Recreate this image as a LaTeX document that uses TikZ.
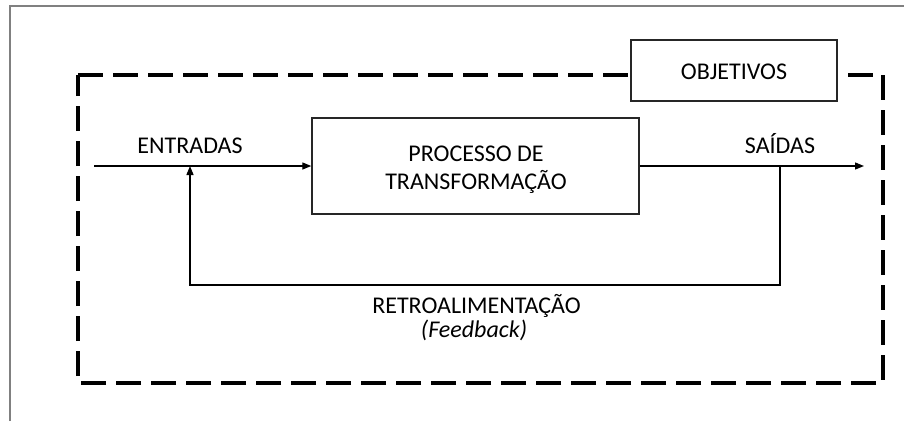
\documentclass[tikz,border=0pt]{standalone}
\usepackage{fontspec}
\setmainfont{Carlito}
\usetikzlibrary{arrows.meta}
\begin{document}
\begin{tikzpicture}[x=1pt,y=-1pt,
  every node/.style={font=\fontsize{24}{29}\selectfont, inner sep=0pt},
  txt/.style={anchor=base},
  box/.style={draw=black!85, line width=1.4pt, fill=white},
  flow/.style={draw=black, line width=1.3pt},
  arr/.style={flow, -{Triangle[length=9pt,width=7pt]}},
  sysline/.style={draw=black, line width=3.3pt, dash pattern=on 25pt off 10pt},
  frame/.style={draw=black!50, line width=1.5pt}]
  % page area
  \fill[white] (0,0) rectangle (904,421);
  \useasboundingbox (0,0) rectangle (904,421);
  % page frame
  \draw[frame] (10,421) -- (10,6) -- (904,6);
  % system boundary
  \draw[sysline] (78,75) -- (883,75) -- (883,383) -- (78,383) -- cycle;
  % blocks
  \node[box, minimum width=206pt, minimum height=61pt] (obj) at (734,70.5) {};
  \node[txt] (objt) at (734,79) {OBJETIVOS};
  \node[box, minimum width=327pt, minimum height=96pt] (proc) at (475.5,166) {};
  \node[txt] (l1) at (476,161) {PROCESSO DE};
  \node[txt] (l2) at (476,189) {TRANSFORMAÇÃO};
  % connection points
  \coordinate (in) at (94,166);
  \coordinate (out) at (864,166);
  \coordinate (tap) at (780,166);
  \coordinate (join) at (190,166);
  \coordinate (fb) at (480,285);
  % flows
  \draw[arr] (in) -- (proc.west);
  \draw[arr] (proc.east) -- (out);
  \draw[flow] (tap) |- (fb);
  \draw[arr] (fb) -| (join);
  % labels
  \node[txt] (ent) at (190,153) {ENTRADAS};
  \node[txt] (sai) at (780,153) {SAÍDAS};
  \node[txt] (ret) at (476.5,313) {RETROALIMENTAÇÃO};
  \node[txt] (feed) at (474,337) {\itshape (Feedback)};
\end{tikzpicture}
\end{document}
